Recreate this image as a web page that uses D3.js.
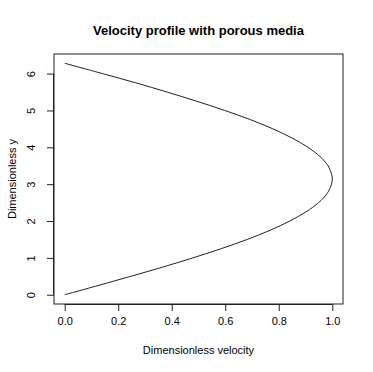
<!DOCTYPE html>
<html>
<head>
<meta charset="utf-8">
<script src="https://cdn.jsdelivr.net/npm/d3@7"></script>
<style>
  body { margin: 0; background: #fff; }
  text { font-family: "Liberation Sans", Arial, sans-serif; fill: #000; }
</style>
</head>
<body>
<div class="chart-container"></div>
<script>
// --- Data ---
const yValues = [0, 0.25, 0.5, 0.75, 1, 1.25, 1.5, 1.75, 2, 2.25, 2.5, 2.75, 3, 3.14,
                 3.25, 3.5, 3.75, 4, 4.25, 4.5, 4.75, 5, 5.25, 5.5, 5.75, 6, 6.28];
const velocityValues = [0, 0.125, 0.247, 0.366, 0.479, 0.585, 0.682, 0.768, 0.841, 0.902, 0.949, 0.981, 0.997, 1.0,
                        0.998, 0.984, 0.954, 0.909, 0.850, 0.778, 0.694, 0.598, 0.493, 0.382, 0.265, 0.141, 0.0];
const xTicks = [0, 0.2, 0.4, 0.6, 0.8, 1.0];
const yTicks = [0, 1, 2, 3, 4, 5, 6];

const titleText = "Velocity profile with porous media";
const xLabel = "Dimensionless velocity";
const yLabel = "Dimensionless y";

const dimensions = {
    width: 373,
    height: 372,
    margin: { top: 54, right: 30, bottom: 68, left: 54 }
};
const width = dimensions.width - dimensions.margin.left - dimensions.margin.right;
const height = dimensions.height - dimensions.margin.top - dimensions.margin.bottom;

const points = yValues.map((y, i) => ({ y: y, v: velocityValues[i] }));

// R style 4% axis extension
function padded(ext) {
    const pad = (ext[1] - ext[0]) * 0.04;
    return [ext[0] - pad, ext[1] + pad];
}

const xScale = d3.scaleLinear()
    .domain(padded(d3.extent(velocityValues)))
    .range([0, width]);

const yScale = d3.scaleLinear()
    .domain(padded(d3.extent(yValues)))
    .range([height, 0]);

const svg = d3.select(".chart-container").append("svg")
    .attr("width", dimensions.width)
    .attr("height", dimensions.height);

const g = svg.append("g")
    .attr("transform", `translate(${dimensions.margin.left}, ${dimensions.margin.top})`);

// Box around plot region
g.append("rect")
    .attr("x", 0)
    .attr("y", 0)
    .attr("width", width)
    .attr("height", height)
    .attr("fill", "none")
    .attr("stroke", "#222")
    .attr("stroke-width", 1);

// X axis
const xAxis = g.append("g")
    .attr("transform", `translate(0, ${height})`)
    .call(d3.axisBottom(xScale)
        .tickValues(xTicks)
        .tickSize(7)
        .tickPadding(6)
        .tickFormat(d3.format(".1f")));

// Y axis
const yAxis = g.append("g")
    .call(d3.axisLeft(yScale)
        .tickValues(yTicks)
        .tickSize(7)
        .tickFormat(d3.format("d")));

// rotated y tick labels like R's las=0
yAxis.selectAll(".tick text")
    .attr("transform", "rotate(-90)")
    .attr("y", -22)
    .attr("x", 0)
    .attr("dy", 0)
    .attr("dominant-baseline", "middle")
    .style("text-anchor", "middle");

// domain lines span only first..last tick, like R
xAxis.select(".domain")
    .attr("d", `M${xScale(xTicks[0])},0.5H${xScale(xTicks[xTicks.length - 1])}`);
yAxis.select(".domain")
    .attr("d", `M-0.5,${yScale(yTicks[0])}V${yScale(yTicks[yTicks.length - 1])}`);

svg.selectAll(".tick text")
    .style("font-family", "'Liberation Sans', Arial, sans-serif")
    .style("font-size", "11px")
    .attr("fill", "#000");
svg.selectAll(".tick line, .domain").attr("stroke", "#222");

// Curve
const line = d3.line()
    .x(d => xScale(d.v))
    .y(d => yScale(d.y))
    .curve(d3.curveCatmullRom);

g.append("path")
    .datum(points)
    .attr("d", line)
    .attr("fill", "none")
    .attr("stroke", "#222")
    .attr("stroke-width", 1);

// Title and axis labels
svg.append("text")
    .attr("x", dimensions.margin.left + width / 2)
    .attr("y", 35)
    .attr("text-anchor", "middle")
    .style("font-size", "13px")
    .style("font-weight", "bold")
    .text(titleText);

svg.append("text")
    .attr("x", dimensions.margin.left + width / 2)
    .attr("y", 354)
    .attr("text-anchor", "middle")
    .style("font-size", "11px")
    .text(xLabel);

svg.append("text")
    .attr("transform", `translate(16, ${dimensions.margin.top + height / 2}) rotate(-90)`)
    .attr("text-anchor", "middle")
    .style("font-size", "11px")
    .text(yLabel);
</script>
</body>
</html>
